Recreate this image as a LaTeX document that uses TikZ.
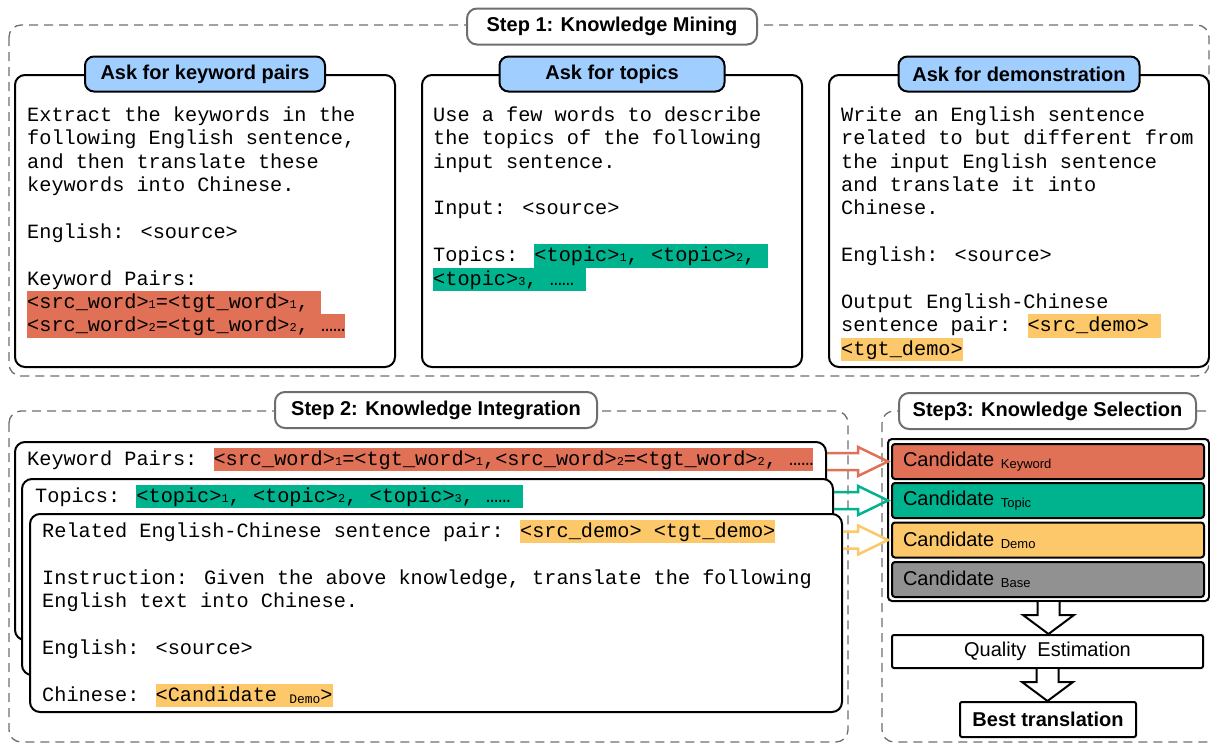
\documentclass[tikz,border=0pt]{standalone}
\usepackage{fontspec}
\setmainfont{Liberation Sans}
\newfontfamily\mono{Liberation Mono}
\usetikzlibrary{calc}
\definecolor{kwc}{HTML}{E07056}
\definecolor{tpc}{HTML}{00B38F}
\definecolor{dmc}{HTML}{FCC86A}
\definecolor{bsc}{HTML}{919191}
\definecolor{lbc}{HTML}{A0CFFF}
\definecolor{stc}{HTML}{6E6E6E}
\newcommand\ls{\rule[-5.9pt]{0pt}{23.4pt}}
\newcommand\hlx[2]{{\setlength{\fboxsep}{0pt}\colorbox{#1}{\ls#2}}}
\newcommand\sbn[1]{{\fontsize{12}{12}\selectfont #1}}
\newcommand\sbw[1]{\raisebox{-2pt}{\fontsize{13}{13}\selectfont #1}}
\newcommand\sbs[1]{\raisebox{-2pt}{\fontsize{13}{13}\selectfont #1}}
\tikzset{
 pbox/.style={draw, line width=2pt, rounded corners=10pt, fill=white, inner sep=0pt},
 lbl/.style={draw, line width=2pt, rounded corners=9pt, fill=lbc, font=\bfseries\fontsize{20}{24}\selectfont, inner sep=0pt, minimum height=35pt},
 steptitle/.style={draw=stc, line width=2pt, rounded corners=10pt, fill=white, font=\bfseries\fontsize{20}{24}\selectfont, minimum height=36pt, inner sep=0pt},
 dashbox/.style={draw=stc, dash pattern=on 9pt off 6pt, line width=1.3pt, rounded corners=12pt},
 mtext/.style={font=\mono\fontsize{20.25}{23.4}\selectfont, align=left, inner sep=0pt, anchor=north west},
 cand/.style={draw, line width=2pt, rounded corners=3pt, minimum width=312pt, minimum height=35pt, text width=290pt, inner xsep=11pt, inner ysep=0pt, align=left, font=\fontsize{20}{24}\selectfont},
 qbox/.style={draw, line width=2pt, rounded corners=2pt, minimum height=34pt, inner sep=0pt, fill=white, font=\fontsize{20}{24}\selectfont},
 blockarrow/.style={draw, line width=2pt, fill=white, line join=miter},
 harr/.style={line width=2.5pt, line join=miter},
}
\newcommand\harrow[3]{\draw[harr,#1] let \p1=#2, \p2=#3 in
  ({\x1},{\y2+8.5pt}) -- ({\x2-30pt},{\y2+8.5pt}) -- ({\x2-30pt},{\y2+14.5pt}) -- (\p2)
  -- ({\x2-30pt},{\y2-14.5pt}) -- ({\x2-30pt},{\y2-8.5pt}) -- ({\x1},{\y2-8.5pt});}
\newcommand\varrow[2]{\draw[blockarrow] let \p1=#1, \p2=#2 in
  ({\x1-11pt},{\y1}) -- ({\x1-11pt},{\y2+19pt}) -- ({\x1-25.5pt},{\y2+19pt}) -- ({\x1},{\y2})
  -- ({\x1+25.5pt},{\y2+19pt}) -- ({\x1+11pt},{\y2+19pt}) -- ({\x1+11pt},{\y1});}
\begin{document}
\begin{tikzpicture}[x=1pt,y=-1pt]
\useasboundingbox (0,0) rectangle (1210,744);
% dashed step frames
\draw[dashbox] (9,25) rectangle (1209,376);
\draw[dashbox] (9,411) rectangle (848,742);
\draw[dashbox] (882,411) rectangle (1222,742);
\node[steptitle, minimum width=290pt] (s1) at (612,26.5) {Step 1: Knowledge Mining};
\node[steptitle, minimum width=322pt] (s2) at (436,410) {Step 2: Knowledge Integration};
\node[steptitle, minimum width=297pt] (s3) at (1047.5,411) {Step3: Knowledge Selection};

% Step 1 boxes
\node[pbox, minimum width=380pt, minimum height=292pt] (b1) at (205,221) {};
\node[pbox, minimum width=380pt, minimum height=292pt] (b2) at (612,221) {};
\node[pbox, minimum width=380pt, minimum height=292pt] (b3) at (1019,221) {};
\node[lbl, minimum width=240pt] (l1) at (b1.north) {Ask for keyword pairs};
\node[lbl, minimum width=225pt] (l2) at (b2.north) {Ask for topics};
\node[lbl, minimum width=241pt] (l3) at (b3.north) {Ask for demonstration};

\node[mtext] (t1) at (27,103.5) {\ls Extract the keywords in the\\
\ls following English sentence,\\
\ls and then translate these\\
\ls keywords into Chinese.\\
\ls\\
\ls English: <source>\\
\ls\\
\ls Keyword Pairs:\\
\hlx{kwc}{<src\_word>\sbn{1}=<tgt\_word>\sbn{1}, }\\
\hlx{kwc}{<src\_word>\sbn{2}=<tgt\_word>\sbn{2}, ……}};

\node[mtext] (t2) at (433,103.5) {\ls Use a few words to describe\\
\ls the topics of the following\\
\ls input sentence.\\
\ls\\
\ls Input: <source>\\
\ls\\
\ls Topics: \hlx{tpc}{<topic>\sbn{1}, <topic>\sbn{2}, }\\
\hlx{tpc}{<topic>\sbn{3}, …… }};

\node[mtext] (t3) at (841,103.5) {\ls Write an English sentence\\
\ls related to but different from\\
\ls the input English sentence\\
\ls and translate it into\\
\ls Chinese.\\
\ls\\
\ls English: <source>\\
\ls\\
\ls Output English-Chinese\\
\ls sentence pair: \hlx{dmc}{<src\_demo> }\\
\hlx{dmc}{<tgt\_demo>}};

% Step 2 stacked prompts
\node[pbox, minimum width=811pt, minimum height=198pt] (bA) at (420.5,541) {};
\node[mtext] (tA) at (27,447.5) {\ls Keyword Pairs: \hlx{kwc}{<src\_word>\sbn{1}=<tgt\_word>\sbn{1},<src\_word>\sbn{2}=<tgt\_word>\sbn{2}, ……}};
\node[pbox, minimum width=811pt, minimum height=196pt] (bB) at (427.5,577) {};
\node[mtext] (tB) at (35,484.5) {\ls Topics: \hlx{tpc}{<topic>\sbn{1}, <topic>\sbn{2}, <topic>\sbn{3}, …… }};
\node[pbox, minimum width=812pt, minimum height=198pt] (bC) at (436,613) {};
\node[mtext] (tC) at (42,519.5) {\ls Related English-Chinese sentence pair: \hlx{dmc}{<src\_demo> <tgt\_demo>}\\
\ls\\
\ls Instruction: Given the above knowledge, translate the following\\
\ls English text into Chinese.\\
\ls\\
\ls English: <source>\\
\ls\\
\ls Chinese: \hlx{dmc}{<Candidate \sbw{Demo}>}};

% Step 3
\node[draw, line width=2pt, rounded corners=4pt, minimum width=321pt, minimum height=162pt, inner sep=0pt] (cands) at (1048.5,520) {};
\node[cand, fill=kwc] (cK) at (1048,461.5) {Candidate \sbs{Keyword}};
\node[cand, fill=tpc] (cT) at (1048,500.5) {Candidate \sbs{Topic}};
\node[cand, fill=dmc] (cD) at (1048,540) {Candidate \sbs{Demo}};
\node[cand, fill=bsc] (cB) at (1048,579.5) {Candidate \sbs{Base}};
\node[qbox, minimum width=311pt, minimum height=33pt] (qe) at (1047.5,651.5) {Quality\ \ Estimation};
\node[qbox, minimum width=176pt, minimum height=35pt, font=\bfseries\fontsize{20}{24}\selectfont] (best) at (1048,719.5) {Best translation};
\varrow{(cands.south)}{(qe.north)}
\varrow{(qe.south)}{(best.north)}

% colored hollow arrows
\harrow{kwc}{(bA.east |- cK.west)}{([xshift=-3pt]cK.west)}
\harrow{tpc}{(bB.east |- cT.west)}{([xshift=-3pt]cT.west)}
\harrow{dmc}{(bC.east |- cD.west)}{([xshift=-3pt]cD.west)}
\end{tikzpicture}
\end{document}
